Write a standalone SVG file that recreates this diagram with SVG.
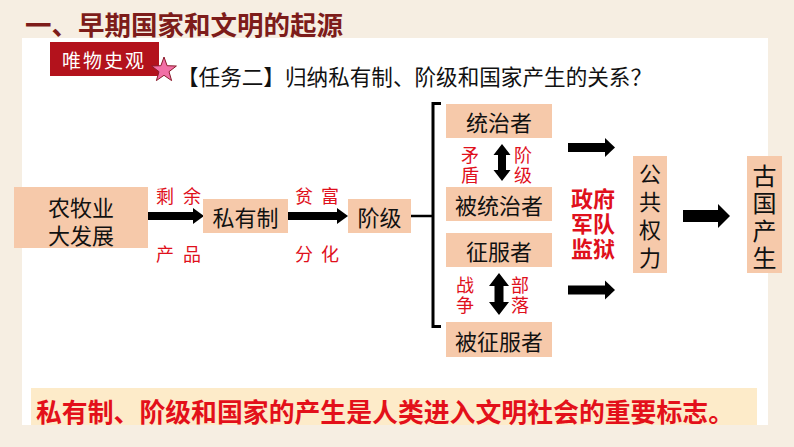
<svg xmlns="http://www.w3.org/2000/svg" width="794" height="447" viewBox="0 0 794 447">
<style>
text{font-family:"Noto Sans CJK SC","Noto Sans",sans-serif;dominant-baseline:central}
.box{fill:#f6c9aa}
.nt{font-size:22px;fill:#111;text-anchor:middle}
.red{font-size:18px;fill:#e0101c}
.redv{font-size:18px;fill:#e0101c;text-anchor:middle;writing-mode:vertical-rl;letter-spacing:2px}
.vt{writing-mode:vertical-rl;text-anchor:middle;fill:#111}
.blk{fill:#000}
.ln{stroke:#000;fill:none}
</style>
<rect x="0" y="0" width="794" height="447" fill="#f6eee2"/>
<rect x="22" y="38" width="746" height="387" fill="#ffffff"/>
<text x="25" y="23.5" font-size="26.5" font-weight="bold" fill="#7d1c1a">一、早期国家和文明的起源</text>
<g id="badge">
<rect x="50" y="42" width="109" height="34" fill="#b3121c"/>
<text x="104" y="59.5" font-size="19" fill="#fff" text-anchor="middle" letter-spacing="2">唯物史观</text>
<polygon points="164,57 167.1,65.7 176.4,66 169,71.7 171.6,80.6 164,75.3 156.4,80.6 159,71.7 151.6,66 160.9,65.7" fill="#f26fa6" stroke="#8a1a2a" stroke-width="1"/>
</g>
<text x="177" y="75" font-size="21.5" fill="#111" textLength="475" lengthAdjust="spacingAndGlyphs">【任务二】归纳私有制、阶级和国家产生的关系？</text>

<g id="connectors">
<rect class="blk" x="148" y="212" width="46" height="8"/>
<polygon class="blk" points="193,208 204,216 193,224"/>
<rect class="blk" x="288" y="212" width="50" height="8"/>
<polygon class="blk" points="337,208 348,216 337,224"/>
<line class="ln" x1="411" y1="216" x2="433" y2="216" stroke-width="2.5"/>
<path class="ln" d="M441,103.5 H433 V326.5 H441" stroke-width="3"/>
<polygon class="blk" points="502,144 510.5,155 506,155 506,170 510.5,170 502,181 493.5,170 498,170 498,155 493.5,155"/>
<polygon class="blk" points="499,273 509,286 503.5,286 503.5,302 509,302 499,315 489,302 494.5,302 494.5,286 489,286"/>
<rect class="blk" x="568" y="143" width="38" height="9"/>
<polygon class="blk" points="605,138 615,147.5 605,157"/>
<rect class="blk" x="568" y="285.5" width="38" height="9"/>
<polygon class="blk" points="605,280.5 615,290 605,299.5"/>
<rect class="blk" x="683" y="210" width="36" height="12"/>
<polygon class="blk" points="718,204 730,216 718,228"/>
</g>

<g id="labels">
<text class="red" x="156" y="195" letter-spacing="9">剩余</text>
<text class="red" x="156" y="253" letter-spacing="9">产品</text>
<text class="red" x="295" y="195" letter-spacing="8">贫富</text>
<text class="red" x="295" y="253" letter-spacing="8">分化</text>
<text class="redv" x="470" y="166">矛盾</text>
<text class="redv" x="523" y="166">阶级</text>
<text class="redv" x="465" y="296">战争</text>
<text class="redv" x="520" y="296">部落</text>
<text font-size="22" font-weight="bold" fill="#e0101c"><tspan x="571" y="197">政府</tspan><tspan x="571" y="222">军队</tspan><tspan x="571" y="247">监狱</tspan></text>
</g>

<g id="n-nongmu">
<rect class="box" x="14" y="187" width="134" height="61"/>
<text class="nt"><tspan x="81" y="206">农牧业</tspan><tspan x="81" y="234">大发展</tspan></text>
</g>
<g id="n-siyouzhi">
<rect class="box" x="203" y="199" width="85" height="34"/>
<text class="nt" x="245.5" y="216">私有制</text>
</g>
<g id="n-jieji">
<rect class="box" x="348" y="199" width="63" height="34"/>
<text class="nt" x="379.5" y="216">阶级</text>
</g>
<g id="n-tongzhi">
<rect class="box" x="446" y="104" width="106" height="34"/>
<text class="nt" x="499" y="121">统治者</text>
</g>
<g id="n-beitongzhi">
<rect class="box" x="446" y="187" width="106" height="34"/>
<text class="nt" x="499" y="204">被统治者</text>
</g>
<g id="n-zhengfu">
<rect class="box" x="446" y="233" width="106" height="34"/>
<text class="nt" x="499" y="250">征服者</text>
</g>
<g id="n-beizhengfu">
<rect class="box" x="446" y="322" width="106" height="35"/>
<text class="nt" x="499" y="339.5">被征服者</text>
</g>
<g id="n-gonggong">
<rect class="box" x="633" y="156" width="34" height="117"/>
<text class="vt" x="650" y="219" font-size="22" letter-spacing="6">公共权力</text>
</g>
<g id="n-guguo">
<rect class="box" x="747" y="156" width="35" height="117"/>
<text class="vt" x="764.5" y="218.5" font-size="24" letter-spacing="3.5">古国产生</text>
</g>

<g id="banner">
<rect x="31" y="388" width="726" height="37" fill="#fdebc9"/>
<text x="36" y="410" font-size="26" font-weight="bold" fill="#e3101a" textLength="698" lengthAdjust="spacingAndGlyphs">私有制、阶级和国家的产生是人类进入文明社会的重要标志。</text>
</g>
</svg>
